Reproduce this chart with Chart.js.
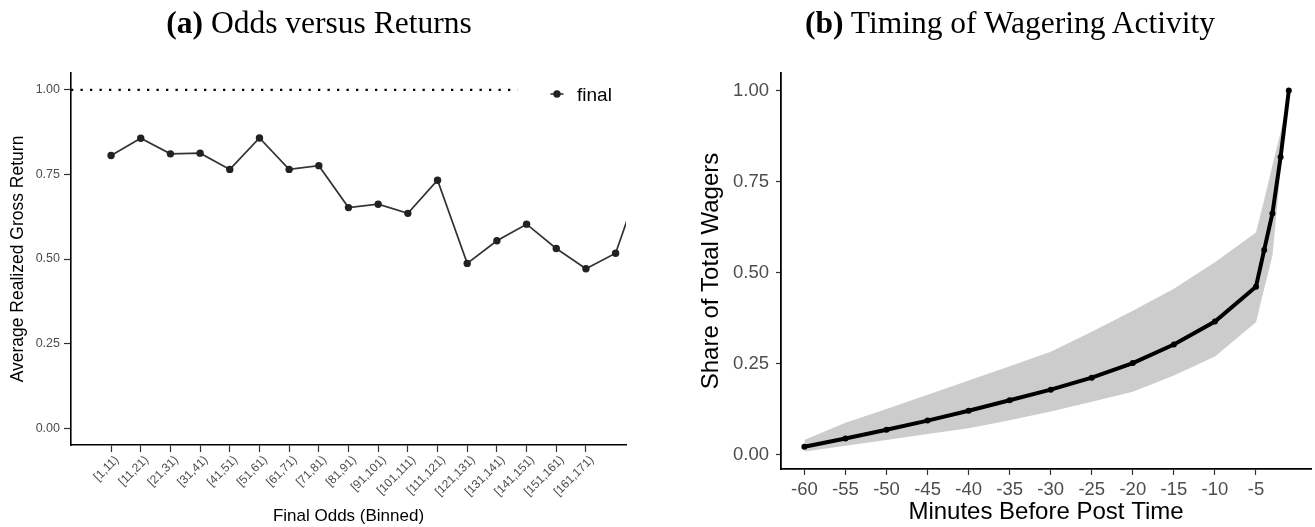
<!DOCTYPE html>
<html>
<head>
<meta charset="utf-8">
<script src="https://cdn.jsdelivr.net/npm/chart.js@4.4.1/dist/chart.umd.min.js"></script>
<style>
  html, body { margin: 0; padding: 0; background: #fff; }
  #page { position: relative; width: 1315px; height: 527px; overflow: hidden; }
  .panel { position: absolute; top: 0; }
  .cap { position: absolute; top: 8px; width: 600px; text-align: center; font: 31.5px/30px 'Liberation Serif', serif; color: #000; white-space: nowrap; }
</style>
</head>
<body>
<div id="page">
  <canvas id="odds" class="panel" width="650" height="527" style="left:0"></canvas>
  <canvas id="timing" class="panel" width="665" height="527" style="left:650px"></canvas>
  <div class="cap" style="left:19px"><b>(a)</b> Odds versus Returns</div>
  <div class="cap" style="left:710px"><b>(b)</b> Timing of Wagering Activity</div>
</div>
<script>
// Panel (a): odds bins vs average realized gross return
const binLabels = ['[1,11)', '[11,21)', '[21,31)', '[31,41)', '[41,51)', '[51,61)', '[61,71)', '[71,81)',
  '[81,91)', '[91,101)', '[101,111)', '[111,121)', '[121,131)', '[131,141)', '[141,151)', '[151,161)', '[161,171)'];
// one value per bin, the last two bins have no label (last one runs off the panel)
const finalReturn = [0.806, 0.857, 0.811, 0.813, 0.765, 0.858, 0.765, 0.776, 0.652, 0.662,
  0.635, 0.733, 0.487, 0.554, 0.603, 0.531, 0.471, 0.517, 0.77];
const refLevel = 1.0;
const refEnd = 13.7;          // dotted reference line stops here (bin index)
const returnTicks = [0, 0.25, 0.5, 0.75, 1];
const seriesName = 'final';

// Panel (b): cumulative share of wagers before post time
const minutes = [-60, -55, -50, -45, -40, -35, -30, -25, -20, -15, -10, -5, -4, -3, -2, -1];
const share = [0.021, 0.044, 0.068, 0.093, 0.120, 0.149, 0.178, 0.211, 0.251, 0.302, 0.365, 0.461, 0.562, 0.662, 0.817, 1.000];
const shareUpper = [0.040, 0.087, 0.125, 0.164, 0.203, 0.242, 0.282, 0.337, 0.395, 0.455, 0.528, 0.610, 0.700, 0.794, 0.885, 1.000];
const shareLower = [0.008, 0.024, 0.040, 0.056, 0.072, 0.094, 0.118, 0.145, 0.172, 0.217, 0.269, 0.363, 0.455, 0.545, 0.780, 1.000];
const minuteTicks = [-60, -55, -50, -45, -40, -35, -30, -25, -20, -15, -10, -5];
const shareTicks = [0, 0.25, 0.5, 0.75, 1];

const sans = "'Liberation Sans', Arial, sans-serif";
Chart.defaults.font.family = sans;
Chart.defaults.color = '#4d4d4d';

const tickGrey = '#333333';
const lineGrey = '#333333';
const pointGrey = '#222222';

// ggplot-like legend key drawn inside the panel
const legendKey = {
  id: 'legendKey',
  afterDraw(chart) {
    const { ctx, chartArea } = chart;
    const x = chartArea.right - 69;
    const y = chartArea.top + 21;
    ctx.save();
    ctx.strokeStyle = lineGrey;
    ctx.lineWidth = 1.6;
    ctx.beginPath();
    ctx.moveTo(x - 6.5, y);
    ctx.lineTo(x + 6.5, y);
    ctx.stroke();
    ctx.fillStyle = pointGrey;
    ctx.beginPath();
    ctx.arc(x, y, 3.7, 0, Math.PI * 2);
    ctx.fill();
    ctx.font = '19px ' + sans;
    ctx.fillStyle = '#000';
    ctx.textBaseline = 'middle';
    ctx.fillText(seriesName, x + 20, y + 2);
    ctx.restore();
  }
};

// Odds versus Returns
new Chart(document.getElementById('odds'), {
  type: 'line',
  data: {
    datasets: [
      {
        label: seriesName,
        data: finalReturn.map((v, i) => ({ x: i, y: v })),
        borderColor: lineGrey,
        borderWidth: 1.7,
        pointRadius: 3.7,
        pointBackgroundColor: pointGrey,
        pointBorderWidth: 0,
        tension: 0,
        clip: 0
      },
      {
        label: 'reference',
        data: [{ x: -1.35, y: refLevel }, { x: refEnd, y: refLevel }],
        borderColor: '#000',
        borderWidth: 2.3,
        borderDash: [2.3, 7.2],
        borderCapStyle: 'butt',
        pointRadius: 0
      }
    ]
  },
  options: {
    responsive: false,
    animation: false,
    devicePixelRatio: 1,
    layout: { padding: { top: 73, right: 24, bottom: 0, left: 0 } },
    plugins: { legend: { display: false }, tooltip: { enabled: false } },
    scales: {
      x: {
        type: 'linear',
        min: -1.35,
        max: 17.35,
        afterBuildTicks: (s) => { s.ticks = binLabels.map((_, i) => ({ value: i })); },
        afterFit: (s) => { s.height = 82; },
        ticks: {
          autoSkip: false,
          minRotation: 45,
          maxRotation: 45,
          padding: 1,
          labelOffset: 6,
          font: { size: 12 },
          color: '#4d4d4d',
          callback: (v) => binLabels[v]
        },
        grid: { drawOnChartArea: false, drawTicks: true, tickLength: 7, tickColor: tickGrey, tickWidth: 1.2 },
        border: { display: true, color: '#000', width: 1.6 },
        title: { display: true, text: 'Final Odds (Binned)', color: '#000', font: { size: 17 }, padding: { top: 0, bottom: 0 } }
      },
      y: {
        min: -0.05,
        max: 1.05,
        afterBuildTicks: (s) => { s.ticks = returnTicks.map(v => ({ value: v })); },
        afterFit: (s) => { s.width = 71; },
        ticks: {
          padding: 4,
          font: { size: 12.5 },
          color: '#4d4d4d',
          callback: (v) => Number(v).toFixed(2)
        },
        grid: { drawOnChartArea: false, drawTicks: true, tickLength: 7, tickColor: tickGrey, tickWidth: 1.2 },
        border: { display: true, color: '#000', width: 1.6 },
        title: { display: true, text: 'Average Realized Gross Return', color: '#000', font: { size: 17.5 }, padding: { top: 7.8, bottom: 0 } }
      }
    }
  },
  plugins: [legendKey]
});

// Timing of Wagering Activity
new Chart(document.getElementById('timing'), {
  type: 'line',
  data: {
    datasets: [
      {
        label: 'share',
        data: minutes.map((m, i) => ({ x: m, y: share[i] })),
        borderColor: '#000',
        borderWidth: 4,
        pointRadius: 3,
        pointBackgroundColor: '#000',
        pointBorderWidth: 0,
        tension: 0
      },
      {
        label: 'upper',
        data: minutes.map((m, i) => ({ x: m, y: shareUpper[i] })),
        borderWidth: 0,
        pointRadius: 0,
        backgroundColor: '#cccccc',
        fill: 2
      },
      {
        label: 'lower',
        data: minutes.map((m, i) => ({ x: m, y: shareLower[i] })),
        borderWidth: 0,
        pointRadius: 0,
        fill: false
      }
    ]
  },
  options: {
    responsive: false,
    animation: false,
    devicePixelRatio: 1,
    layout: { padding: { top: 73, right: 0, bottom: 0, left: 0 } },
    plugins: { legend: { display: false }, tooltip: { enabled: false } },
    scales: {
      x: {
        type: 'linear',
        min: -62.85,
        max: 1.7,
        afterBuildTicks: (s) => { s.ticks = minuteTicks.map(v => ({ value: v })); },
        afterFit: (s) => { s.height = 58; },
        ticks: {
          autoSkip: false,
          maxRotation: 0,
          padding: 4,
          font: { size: 18.5 },
          color: '#4d4d4d',
          callback: (v) => String(v)
        },
        grid: { drawOnChartArea: false, drawTicks: true, tickLength: 6, tickColor: tickGrey, tickWidth: 1.2 },
        border: { display: true, color: '#000', width: 1.8 },
        title: { display: true, text: 'Minutes Before Post Time', color: '#000', font: { size: 24 }, padding: { top: 0, bottom: 0 } }
      },
      y: {
        min: -0.04,
        max: 1.048,
        afterBuildTicks: (s) => { s.ticks = shareTicks.map(v => ({ value: v })); },
        afterFit: (s) => { s.width = 131; },
        ticks: {
          padding: 7,
          font: { size: 18.5 },
          color: '#4d4d4d',
          callback: (v) => Number(v).toFixed(2)
        },
        grid: { drawOnChartArea: false, drawTicks: true, tickLength: 5, tickColor: tickGrey, tickWidth: 1.2 },
        border: { display: true, color: '#000', width: 1.8 },
        title: { display: true, text: 'Share of Total Wagers', color: '#000', font: { size: 24 }, padding: { top: 47.3, bottom: 0 } }
      }
    }
  }
});
</script>
</body>
</html>
